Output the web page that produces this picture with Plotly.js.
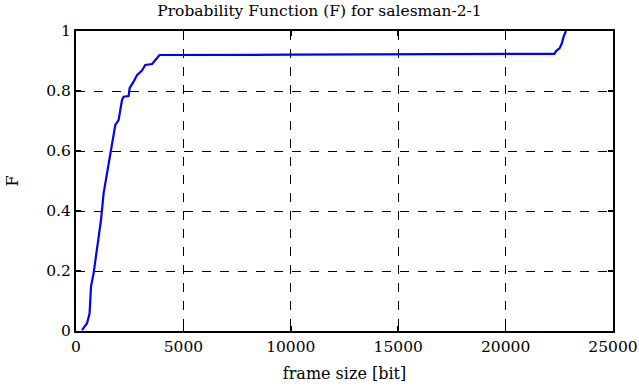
<!DOCTYPE html>
<html>
<head>
<meta charset="utf-8">
<script src="https://cdn.plot.ly/plotly-3.0.1.min.js"></script>
<style>html,body{margin:0;padding:0;background:#fff;}#chart{width:639px;height:387px;}</style>
</head>
<body>
<div id="chart"></div>
<script>
const frameSize = [279, 512, 633, 698, 819, 978, 1164, 1285, 1518, 1676, 1783, 1830, 1983, 2062, 2095, 2141, 2218, 2449, 2495, 2528, 2683, 2840, 3070, 3225, 3540, 3890, 10000, 16500, 22270, 22360, 22510, 22620, 22700, 22810];
const probF = [0.003, 0.026, 0.059, 0.148, 0.192, 0.281, 0.37, 0.459, 0.559, 0.614, 0.67, 0.687, 0.703, 0.737, 0.748, 0.77, 0.781, 0.783, 0.809, 0.814, 0.831, 0.853, 0.868, 0.887, 0.89, 0.92, 0.921, 0.922, 0.924, 0.934, 0.942, 0.959, 0.981, 1.0];
const xTicks = [0, 5000, 10000, 15000, 20000, 25000];
const yTicks = [0, 0.2, 0.4, 0.6, 0.8, 1];
const yTickText = ['0', '0.2', '0.4', '0.6', '0.8', '1'];

const FAM = 'DejaVu Serif';
const trace = {
  x: frameSize, y: probF, type: 'scatter', mode: 'lines',
  line: {color: '#0000ff', width: 2.2, shape: 'linear'}, hoverinfo: 'skip'
};
const axisCommon = {
  showline: true, linecolor: '#000', linewidth: 2, mirror: 'ticks',
  ticks: 'inside', ticklen: 5, tickwidth: 1.5, tickcolor: '#000',
  showgrid: true, gridcolor: '#000', gridwidth: 1, griddash: 'dash',
  zeroline: false, tickfont: {family: FAM, size: 15.5, color: '#000'}
};
const layout = {
  width: 639, height: 387,
  margin: {l: 76, r: 26, t: 31, b: 56},
  paper_bgcolor: '#fff', plot_bgcolor: '#fff',
  showlegend: false,
  font: {family: FAM, color: '#000', size: 16},
  title: {text: 'Probability Function (F) for salesman-2-1', font: {family: FAM, size: 15.5, color: '#000'}, x: 0.5, xanchor: 'center', y: 0.973, yanchor: 'middle'},
  xaxis: Object.assign({}, axisCommon, {
    range: [0, 25000], tickvals: xTicks, ticktext: xTicks.map(String),
    title: {text: 'frame size [bit]', font: {family: FAM, size: 16, color: '#000'}, standoff: 13}
  }),
  yaxis: Object.assign({}, axisCommon, {
    range: [0, 1], tickvals: yTicks, ticktext: yTickText,
    title: {text: 'F', font: {family: FAM, size: 16, color: '#000'}, standoff: 24}
  })
};
Plotly.newPlot('chart', [trace], layout, {displayModeBar: false, staticPlot: true});
</script>
</body>
</html>
